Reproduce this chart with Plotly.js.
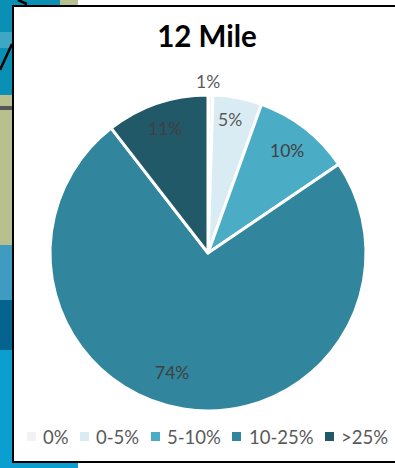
<!DOCTYPE html>
<html>
<head>
<meta charset="utf-8">
<script src="https://cdn.plot.ly/plotly-3.0.1.min.js"></script>
<style>html,body{margin:0;padding:0;background:#fff}#chart{width:395px;height:468px}</style>
</head>
<body>
<div id="chart"></div>
<script>
var chartTitle = '12 Mile';
var categories = ['0%', '0-5%', '5-10%', '10-25%', '>25%'];
var sliceValues = [0.5, 5, 10, 74, 10.5];
var sliceLabels = ['1%', '5%', '10%', '74%', '11%'];
var colors = ['#f2f2f2', '#daecf3', '#4bacc6', '#31859c', '#215968'];
var labelColors = ['#595959', '#595959', '#404040', '#404040', '#404040'];
var labelX = [208, 230, 287, 172, 165];
var labelY = [81, 120, 151, 372, 128];
var legendSwatchX = [27, 80, 151, 232, 325];
var legendTextX = [43, 96, 167, 249, 341];

var W = 395, H = 468;
function px(x){return x / W;}
function py(y){return 1 - y / H;}
function rect(x0, y0, x1, y1, fill, line, lw){
  return {type:'rect', xref:'paper', yref:'paper', x0:px(x0), x1:px(x1), y0:py(y0), y1:py(y1),
    fillcolor:fill, line:{color:line || fill, width:lw || 0}, layer:'below'};
}
function seg(x0, y0, x1, y1, color, lw){
  return {type:'line', xref:'paper', yref:'paper', x0:px(x0), x1:px(x1), y0:py(y0), y1:py(y1),
    line:{color:color, width:lw}, layer:'below'};
}

var shapes = [
  rect(0, 0, 60, 6, '#0a8fb5'),
  rect(60, 0, 78, 6, '#b9c08f'),
  rect(0, 462, 78, 468, '#0a9fd0'),
  rect(0, 0, 13, 95, '#0a8fb5'),
  rect(0, 32, 13, 48, '#3fa6c6'),
  rect(0, 95, 13, 245, '#b9c08f'),
  rect(0, 245, 13, 300, '#3f9bc0'),
  rect(0, 300, 13, 350, '#04648f'),
  rect(0, 350, 13, 468, '#0a9fd0'),
  rect(0, 106, 13, 110, '#555555'),
  seg(0, 70, 12, 44, '#000000', 2.5),
  seg(18, 0, 27, 4, '#000000', 2.5),
  rect(13, 6, 397, 462, '#ffffff', '#000000', 2)
];
categories.forEach(function(c, i){
  shapes.push(rect(legendSwatchX[i], 432, legendSwatchX[i] + 9, 441, colors[i]));
});

var annotations = categories.map(function(c, i){
  return {text:c, xref:'paper', yref:'paper', x:px(legendTextX[i]), y:py(437), xanchor:'left', yanchor:'middle',
    showarrow:false, font:{family:'Lato, sans-serif', size:18.5, color:'#595959'}, xshift:-2};
}).concat(sliceLabels.map(function(t, i){
  return {text:t, xref:'paper', yref:'paper', x:px(labelX[i]), y:py(labelY[i]), xanchor:'center', yanchor:'middle',
    showarrow:false, font:{family:'Lato, sans-serif', size:17.5, color:labelColors[i]}};
}));

var data = [{
  type:'pie',
  labels:categories,
  values:sliceValues,
  textinfo:'none',
  sort:false,
  direction:'clockwise',
  rotation:0,
  marker:{colors:colors, line:{color:'#ffffff', width:3}},
  domain:{x:[50/W, 366/W], y:[1-411/H, 1-95/H]},
  showlegend:false,
  automargin:false
}];

var layout = {
  width:W, height:H,
  margin:{l:0, r:0, t:0, b:0},
  paper_bgcolor:'#ffffff',
  font:{family:'Lato, sans-serif'},
  title:{text:'<b>'+chartTitle+'</b>', x:207/W, xanchor:'center', y:py(37), yanchor:'middle',
    font:{family:'Lato, sans-serif', size:29.5, color:'#000000'}},
  showlegend:false,
  shapes:shapes,
  annotations:annotations
};
Plotly.newPlot('chart', data, layout, {displayModeBar:false, staticPlot:true});
</script>
</body>
</html>
